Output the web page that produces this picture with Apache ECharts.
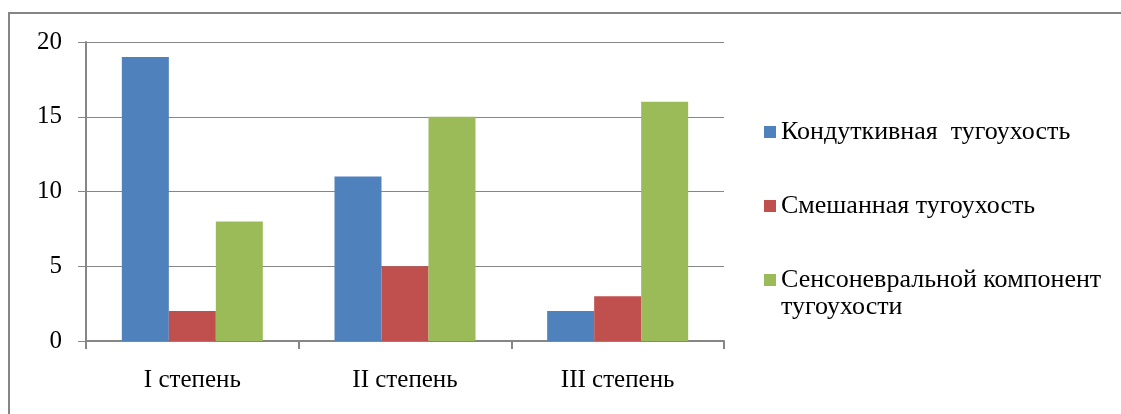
<!DOCTYPE html>
<html>
<head>
<meta charset="utf-8">
<script src="https://cdn.jsdelivr.net/npm/echarts@6/dist/echarts.min.js"></script>
<style>
  html, body { margin: 0; padding: 0; background: #fff; }
  #frame {
    position: absolute; left: 8px; top: 12px; width: 1120px; height: 410px;
    border-left: 2px solid #858585; border-top: 2px solid #858585;
  }
  #chart { width: 1121px; height: 414px; position: absolute; left: 0; top: 0; }
</style>
</head>
<body>
<div id="frame"></div>
<div id="chart"></div>
<script>
// Degrees of hearing loss
const categories = ['I степень', 'II степень', 'III степень'];

// Counts per type of hearing loss
const conductive = [19, 11, 2];
const mixed = [2, 5, 3];
const sensorineural = [8, 15, 16];

const seriesNames = [
  'Кондуткивная  тугоухость',
  'Смешанная тугоухость',
  'Сенсоневральной компонент\nтугоухости'
];

const colors = ['#4F81BD', '#C0504D', '#9BBB59'];
const font = 'Liberation Serif';
const axisGray = '#868686';

// vertical anchor (icon centre) of each legend entry
const legendCenters = [132, 206, 280];

const chart = echarts.init(document.getElementById('chart'), null, { renderer: 'canvas' });

chart.setOption({
  animation: false,
  backgroundColor: 'transparent',
  color: colors,
  grid: { left: 86, right: 397, top: 42, bottom: 73, containLabel: false },
  legend: seriesNames.map((name, i) => {
    const lines = i === 2 ? 3 : 1;
    return {
      left: 764,
      top: legendCenters[i] - (lines * 27) / 2,
      orient: 'vertical',
      icon: 'rect',
      itemWidth: 12,
      itemHeight: 12,
      itemGap: 0,
      padding: 0,
      selectedMode: false,
      data: [name],
      // the wrapped entry gets an empty leading line so its icon sits on the first line
      formatter: i === 2 ? (n) => '\n' + n : (n) => n,
      textStyle: { fontFamily: font, fontSize: 26, color: '#000', lineHeight: 27 }
    };
  }),
  xAxis: {
    type: 'category',
    data: categories,
    axisLine: { lineStyle: { color: axisGray, width: 2 } },
    axisTick: { show: true, length: 8, lineStyle: { color: axisGray, width: 2 } },
    axisLabel: { fontFamily: font, fontSize: 25, color: '#000', margin: 27 }
  },
  yAxis: {
    type: 'value',
    min: 0,
    max: 20,
    interval: 5,
    axisLine: { show: true, lineStyle: { color: axisGray, width: 2 } },
    axisTick: { show: true, length: 8, lineStyle: { color: axisGray, width: 1 } },
    axisLabel: { fontFamily: font, fontSize: 25, color: '#000', margin: 24 },
    splitLine: { lineStyle: { color: axisGray, width: 1 } }
  },
  series: [
    { name: seriesNames[0], type: 'bar', data: conductive, barWidth: 47, barGap: '0%' },
    { name: seriesNames[1], type: 'bar', data: mixed, barWidth: 47, barGap: '0%' },
    { name: seriesNames[2], type: 'bar', data: sensorineural, barWidth: 47, barGap: '0%' }
  ]
});
</script>
</body>
</html>
